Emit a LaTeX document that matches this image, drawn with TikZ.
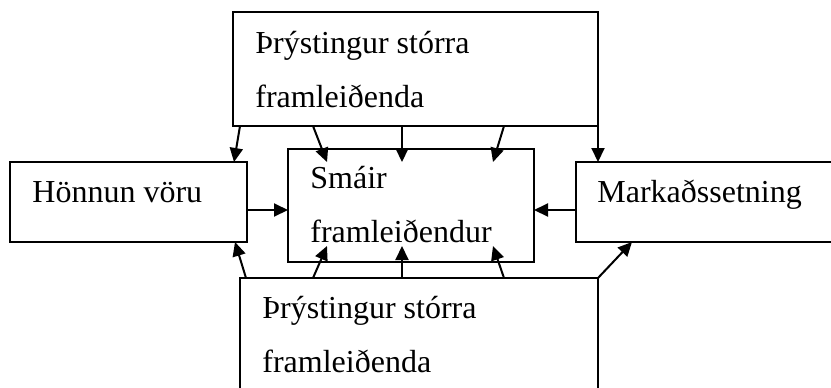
\documentclass[tikz,border=0pt]{standalone}
\usepackage{fontspec}
\setmainfont{Liberation Serif}
\usepackage{tikz}
\usetikzlibrary{
    arrows.meta
}
\tikzstyle{block} = [
    rectangle, draw=black,
    line width=1pt,
    inner sep=0pt, outer sep=0pt,
    anchor=north west
]
\tikzstyle{txt} = [
    anchor=base west,
    align=left,
    inner sep=0pt,
    font=\fontsize{16}{27}\selectfont
]
\tikzstyle{arrow} = [
    line width=1pt,
    -{Triangle[length=7pt,width=6.5pt]}
]

\begin{document}
\begin{tikzpicture}[x=0.5pt, y=-0.5pt]
    \useasboundingbox (0,0) rectangle (831,387);
    \clip (0,0) rectangle (831,387);

    \node[block, minimum width=182.5pt, minimum height=57pt] (press) at (233,12) {};
    \node[block, minimum width=118.5pt, minimum height=40pt] (design) at (10,162) {};
    \node[block, minimum width=123pt, minimum height=56.5pt] (small) at (288,149) {};
    \node[block, minimum width=135pt, minimum height=40pt] (market) at (576,162) {};
    \node[block, minimum width=179pt, minimum height=65pt] (pressb) at (240,278) {};

    \node[txt] (presstxt) at ([shift={(22,95)}]press.north west) {Þrýstingur stórra\\framleiðenda};
    \node[txt] (designtxt) at ([shift={(22,40)}]design.north west) {Hönnun vöru};
    \node[txt] (smalltxt) at ([shift={(22,93)}]small.north west) {Smáir\\framleiðendur};
    \node[txt] (markettxt) at ([shift={(21,40)}]market.north west) {Markaðssetning};
    \node[txt] (pressbtxt) at ([shift={(22,94)}]pressb.north west) {Þrýstingur stórra\\framleiðenda};

    \draw[arrow] ([shift={(7,0)}]press.south west) -- ([shift={(-13,0)}]design.north east);
    \draw[arrow] ([shift={(80,0)}]press.south west) -- ([shift={(39,13)}]small.north west);
    \draw[arrow] ([shift={(169,0)}]press.south west) -- ([shift={(114,13)}]small.north west);
    \draw[arrow] ([shift={(271,0)}]press.south west) -- ([shift={(205,13)}]small.north west);
    \draw[arrow] (press.south east) -- ([shift={(22,0)}]market.north west);

    \draw[arrow] ([shift={(0,48)}]design.north east) -- ([shift={(0,61)}]small.north west);
    \draw[arrow] ([shift={(0,48)}]market.north west) -- ([shift={(0,61)}]small.north east);

    \draw[arrow] ([shift={(6,0)}]pressb.north west) -- ([shift={(-12,0)}]design.south east);
    \draw[arrow] ([shift={(73,0)}]pressb.north west) -- ([shift={(39,-16)}]small.south west);
    \draw[arrow] ([shift={(162,0)}]pressb.north west) -- ([shift={(114,-16)}]small.south west);
    \draw[arrow] ([shift={(264,0)}]pressb.north west) -- ([shift={(205,-16)}]small.south west);
    \draw[arrow] (pressb.north east) -- ([shift={(56,0)}]market.south west);
\end{tikzpicture}
\end{document}
